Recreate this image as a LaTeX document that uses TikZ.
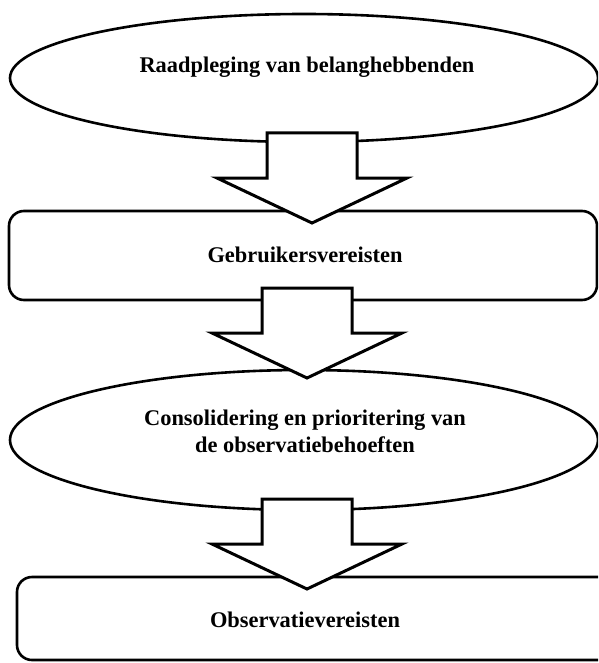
\documentclass[tikz,border=0pt]{standalone}
\usepackage{fontspec}
\setmainfont{Liberation Serif}
\begin{document}
\begin{tikzpicture}[x=1pt,y=-1pt,
  outline/.style={draw=black,line width=2.6pt},
  box/.style={outline,rounded corners=15pt},
  bigarrow/.style={draw=black,line width=3pt,fill=white,line join=miter},
  lbl/.style={font=\bfseries\fontsize{22.4}{27}\selectfont,anchor=base,align=center}]
\useasboundingbox (0,0) rectangle (598,663);
\clip (0,0) rectangle (598,663);
% shapes
\draw[outline] (304,78) ellipse [x radius=294, y radius=64];
\draw[box] (9,211) rectangle (597,300);
\draw[outline] (304,440) ellipse [x radius=294, y radius=70];
\draw[box] (17,577) rectangle (625,660);
% block arrows
\coordinate (a1) at (312,133);
\coordinate (a2) at (307,288);
\coordinate (a3) at (307,499);
\foreach \c in {a1,a2,a3}{
  \draw[bigarrow] ([xshift=-45pt]\c) -- ([xshift=45pt]\c) -- ([xshift=45pt,yshift=-45pt]\c)
    -- ([xshift=95pt,yshift=-45pt]\c) -- ([yshift=-90pt]\c) -- ([xshift=-95pt,yshift=-45pt]\c)
    -- ([xshift=-45pt,yshift=-45pt]\c) -- cycle;
}
% labels
\node[lbl] (t1) at (307,73) {Raadpleging van belanghebbenden};
\node[lbl] (t2) at (305,262) {Gebruikersvereisten};
\node[lbl] (t3) at (305,452) {Consolidering en prioritering van\\de observatiebehoeften};
\node[lbl] (t4) at (305,627) {Observatievereisten};
\end{tikzpicture}
\end{document}
